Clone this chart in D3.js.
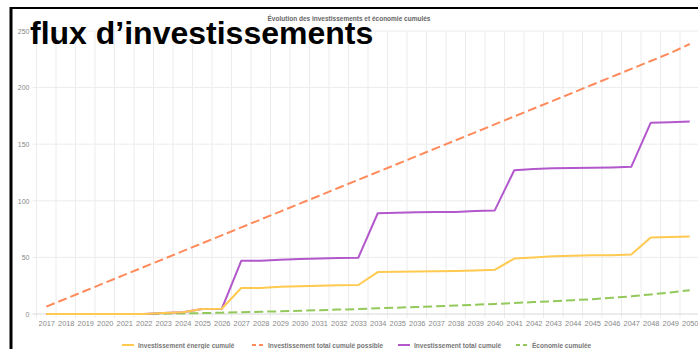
<!DOCTYPE html>
<html>
<head>
<meta charset="utf-8">
<script src="https://cdn.jsdelivr.net/npm/d3@7"></script>
<style>
  body { margin: 0; background: #fff; }
  svg { display: block; font-family: "Liberation Sans", Arial, sans-serif; }
</style>
</head>
<body>
<svg id="chart" width="698" height="349"></svg>
<script>
// années (catégories)
var annees = d3.range(2017, 2051).map(String);
var yTicks = [0, 50, 100, 150, 200, 250];

// séries
var investEnergie = [0, 0, 0, 0, 0, 0, 0.8, 1.5, 4.5, 4.6, 23, 23, 24, 24.5, 25, 25.5, 25.6,
    37, 37.3, 37.5, 37.8, 38, 38.5, 39, 49, 50, 51, 51.5, 52, 52, 52.5, 67.5, 68, 68.5];
var investPossible = [6.5, 13.5, 20.5, 27.5, 34.5, 41.5, 48.5, 55.5, 62.5, 69.5, 76.5, 83.5, 90.5,
    97.5, 104.5, 111.5, 118.5, 125.5, 132.5, 139.5, 146.5, 153.5, 160.5, 167.5, 174.5, 181.5,
    188.5, 195.5, 202.5, 209.5, 216.5, 223.5, 230.5, 238.5];
var investTotal = [0, 0, 0, 0, 0, 0, 0.8, 1.5, 4.5, 4.6, 47, 47, 48, 48.5, 49, 49.5, 49.6,
    89, 89.5, 89.8, 90, 90.2, 91, 91.5, 127, 128, 128.7, 129, 129.3, 129.5, 130, 169, 169.5, 170];
var economie = [0, 0, 0, 0, 0, 0, 0.2, 0.5, 0.8, 1.2, 1.6, 2, 2.4, 2.9, 3.4, 3.9, 4.4,
    5, 5.6, 6.2, 6.8, 7.5, 8.2, 8.9, 9.7, 10.5, 11.3, 12.2, 13.1, 14.3, 15.6, 17.3, 19, 21];

var series = [
    {lbl: "Investissement énergie cumulé", values: investEnergie, color: "#ffca4f", dash: null, z: 3},
    {lbl: "Investissement total cumulé possible", values: investPossible, color: "#ff8a5c", dash: "9,4", z: 1},
    {lbl: "Investissement total cumulé", values: investTotal, color: "#b257cc", dash: null, z: 2},
    {lbl: "Économie cumulée", values: economie, color: "#93c95a", dash: "9,4", z: 0}
];

var svg = d3.select("#chart");
var yHaut = 31, yBas = 314, xGauche = 36.5, xDroite = 699.5;

var xBand = d3.scaleBand().domain(annees).range([xGauche, xDroite]);
var x = d3.scalePoint().domain(annees).range([xGauche, xDroite]).padding(0.5);
var y = d3.scaleLinear().domain([0, 250]).range([yBas, yHaut]);

// grille verticale (décalée entre les catégories)
svg.append("g").selectAll("line").data(annees).enter().append("line")
    .attr("x1", function(d) { return xBand(d); })
    .attr("x2", function(d) { return xBand(d); })
    .attr("y1", yHaut).attr("y2", yBas + 4)
    .attr("stroke", "#ececec").attr("stroke-width", 1);

// grille horizontale
svg.append("g").selectAll("line").data(yTicks).enter().append("line")
    .attr("x1", xGauche - 4).attr("x2", xDroite)
    .attr("y1", function(d) { return y(d); })
    .attr("y2", function(d) { return y(d); })
    .attr("stroke", function(d) { return d == 0 ? "#d8d8d8" : "#ececec"; })
    .attr("stroke-width", 1);

// axe y
var yAxis = svg.append("g")
    .attr("transform", "translate(" + (xGauche - 7) + ",0)")
    .call(d3.axisLeft(y).tickValues(yTicks).tickSize(0).tickPadding(0));
yAxis.select(".domain").remove();
yAxis.selectAll("text").attr("fill", "#888").style("font-size", "7px")
    .style("font-family", "Liberation Sans, Arial, sans-serif");

// axe x
var xAxis = svg.append("g")
    .attr("transform", "translate(0," + (yBas + 5) + ")")
    .call(d3.axisBottom(x).tickSize(0).tickPadding(2));
xAxis.select(".domain").remove();
xAxis.selectAll("text").attr("fill", "#888").style("font-size", "7.4px")
    .style("font-family", "Liberation Sans, Arial, sans-serif");

// courbes
var line = d3.line()
    .x(function(d, i) { return x(annees[i]); })
    .y(function(d) { return y(d); });

var ordre = series.slice().sort(function(a, b) { return a.z - b.z; });
svg.append("g").selectAll("path").data(ordre).enter().append("path")
    .attr("d", function(s) { return line(s.values); })
    .attr("fill", "none")
    .attr("stroke", function(s) { return s.color; })
    .attr("stroke-width", 2)
    .attr("stroke-dasharray", function(s) { return s.dash; })
    .attr("stroke-linejoin", "round");

// titre du graphique
svg.append("text")
    .attr("x", 349).attr("y", 21)
    .attr("text-anchor", "middle")
    .attr("fill", "#666")
    .style("font-size", "6.5px").style("font-weight", "bold")
    .text("Évolution des investissements et économie cumulés");

// légende
var legX = [122, 252, 398, 516];
var leg = svg.append("g").selectAll("g").data(series).enter().append("g")
    .attr("transform", function(d, i) { return "translate(" + legX[i] + ",345)"; });
leg.append("line")
    .attr("x1", 0).attr("x2", 12).attr("y1", 0).attr("y2", 0)
    .attr("stroke", function(d) { return d.color; })
    .attr("stroke-width", 2)
    .attr("stroke-dasharray", function(d) { return d.dash ? "4,3" : null; });
leg.append("text")
    .attr("x", 16).attr("y", 2.5)
    .attr("fill", "#777")
    .style("font-size", "6.5px").style("font-weight", "bold")
    .text(function(d) { return d.lbl; });

// cadre noir
svg.append("line").attr("x1", 10).attr("x2", 698).attr("y1", 8).attr("y2", 8)
    .attr("stroke", "#000").attr("stroke-width", 2);
svg.append("line").attr("x1", 11).attr("x2", 11).attr("y1", 7).attr("y2", 349)
    .attr("stroke", "#000").attr("stroke-width", 3);

// titre superposé
svg.append("text")
    .attr("x", 30).attr("y", 44)
    .attr("fill", "#000")
    .style("font-size", "32px").style("font-weight", "bold")
    .style("font-family", "Liberation Sans, Arial, sans-serif")
    .text("flux d’investissements");
</script>
</body>
</html>
